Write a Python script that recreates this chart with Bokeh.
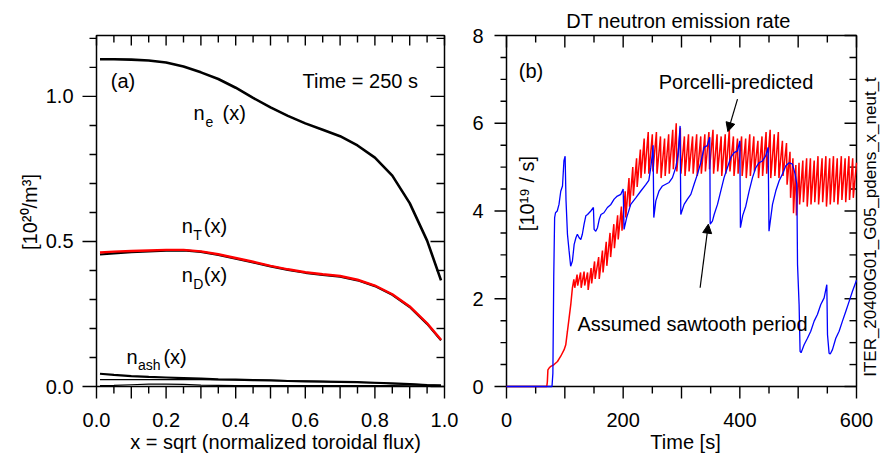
from math import pi
from bokeh.plotting import figure
from bokeh.layouts import row
from bokeh.core.properties import value
from bokeh.models import Range1d, Arrow, NormalHead
from bokeh.embed import file_html
from bokeh.resources import INLINE

FONT = "Liberation Sans"

# ---------------- Panel (a): density profiles at t = 250 s ----------------
rho = [0.01, 0.05, 0.10, 0.15, 0.20, 0.25, 0.30, 0.35, 0.40, 0.45, 0.50,
       0.55, 0.60, 0.65, 0.70, 0.75, 0.80, 0.85, 0.90, 0.95, 0.99]
n_e = [1.128, 1.128, 1.127, 1.124, 1.117, 1.103, 1.083, 1.060, 1.030, 0.995, 0.962,
       0.933, 0.907, 0.885, 0.863, 0.831, 0.789, 0.727, 0.632, 0.503, 0.366]
n_T = [0.462, 0.465, 0.467, 0.469, 0.471, 0.471, 0.466, 0.456, 0.443, 0.430, 0.416,
       0.404, 0.394, 0.387, 0.381, 0.368, 0.348, 0.318, 0.276, 0.218, 0.161]
n_D = [0.455, 0.459, 0.463, 0.466, 0.468, 0.469, 0.464, 0.454, 0.441, 0.428, 0.414,
       0.402, 0.392, 0.385, 0.379, 0.366, 0.346, 0.316, 0.274, 0.216, 0.159]
n_ash = [0.044, 0.040, 0.036, 0.033, 0.031, 0.029, 0.027, 0.025, 0.024, 0.022, 0.021,
         0.019, 0.018, 0.017, 0.016, 0.015, 0.013, 0.011, 0.008, 0.005, 0.003]
n_imp1 = [0.024, 0.024, 0.024, 0.024, 0.024, 0.024, 0.024, 0.023, 0.023, 0.022, 0.021,
          0.020, 0.019, 0.018, 0.016, 0.014, 0.012, 0.010, 0.008, 0.006, 0.005]
n_imp2 = [0.003, 0.004, 0.006, 0.008, 0.008, 0.007, 0.005, 0.004, 0.003, 0.003, 0.003,
          0.003, 0.003, 0.003, 0.003, 0.003, 0.003, 0.003, 0.002, 0.002, 0.002]

a_xlim = (0.0, 1.0)
a_ylim = (0.0, 1.21)
a_xticks = [0.0, 0.1, 0.2, 0.3, 0.4, 0.5, 0.6, 0.7, 0.8, 0.9, 1.0]
a_xminor = [0.05, 0.15, 0.25, 0.35, 0.45, 0.55, 0.65, 0.75, 0.85, 0.95]
a_xlabel_pos = [0.0, 0.2, 0.4, 0.6, 0.8, 1.0]
a_xlabels = ["0.0", "0.2", "0.4", "0.6", "0.8", "1.0"]
a_yticks = [0.0, 0.5, 1.0]
a_yminor = [0.1, 0.2, 0.3, 0.4, 0.6, 0.7, 0.8, 0.9, 1.1, 1.2]
a_ylabels = ["0.0", "0.5", "1.0"]

# ---------------- Panel (b): DT neutron emission rate ----------------
assumed_sawtooth = [
    (0, 0), (78, 0), (79.5, 0.3), (81, 2.5), (82.5, 3.85), (84, 3.96), (87, 4.0), (90, 4.15),
    (93, 4.45), (96, 4.57), (98.5, 5.15), (100.5, 5.25), (102, 4.25), (104.5, 3.47), (107.3, 3.09),
    (110, 2.74), (113, 2.86), (116, 3.24), (119, 3.39), (121.5, 3.47), (124.5, 3.39), (127.4, 3.35),
    (130, 3.47), (133, 3.70), (136, 3.89), (139, 3.92), (144.5, 4.0), (149, 4.08), (150.2, 3.58),
    (153, 3.54), (156, 3.62), (159, 3.81), (162, 3.92), (167, 3.96), (173, 4.08), (179, 4.15),
    (184.5, 4.27), (190, 4.34), (196, 4.38), (200, 4.50), (201.5, 3.58), (206, 3.85), (213, 4.15),
    (221.6, 4.30), (230, 4.45), (238.8, 4.6), (244, 4.7), (247.4, 5.0), (250, 5.3), (251.3, 5.5),
    (252.5, 3.85), (256, 4.23), (261.6, 4.46), (267.4, 4.57), (273, 4.61), (278.8, 4.65),
    (284.5, 4.76), (290.2, 4.99), (294.2, 5.30), (297.6, 5.94), (298.8, 3.92), (304.5, 4.15),
    (310.2, 4.27), (316, 4.38), (321.6, 4.61), (327.4, 4.84), (333, 5.10), (338.8, 5.45),
    (344, 5.49), (348.5, 5.68), (349.2, 3.70), (353, 3.77), (356, 3.92), (361.7, 4.15),
    (367.4, 4.46), (373, 4.76), (378.8, 4.99), (384.5, 5.22), (390.2, 5.33), (396, 5.37),
    (400, 5.6), (401, 3.62), (405, 3.9), (410.2, 4.11), (416, 4.46), (421.7, 4.76), (427.4, 4.99),
    (433, 5.10), (438.8, 5.14), (444.5, 5.26), (448.5, 5.45), (450, 3.54), (456, 4.15),
    (461.7, 4.46), (467.4, 4.69), (473, 4.84), (478.8, 5.03), (484.5, 5.10), (490.2, 5.07),
    (494.8, 4.84), (497.7, 4.61), (498.9, 2.78), (501.6, 1.87), (503.3, 0.80), (505, 0.77),
    (510.2, 0.95), (515.9, 1.10), (521.6, 1.26), (527.4, 1.49), (533, 1.64), (538.8, 1.87),
    (544.5, 2.02), (549.1, 2.32), (550.3, 1.18), (553, 0.76), (555, 0.74), (558.8, 0.84),
    (564.5, 1.10), (570.2, 1.26), (575.9, 1.49), (581.6, 1.71), (587.4, 1.94), (593.1, 2.17),
    (600, 2.42)]

porcelli_predicted = [
    (0, 0), (69, 0), (70, 0.1), (71, 0.38), (73, 0.42), (76, 0.46), (81.6, 0.50), (87.4, 0.57),
    (93, 0.69), (98.8, 0.84), (101.6, 0.95), (104.5, 1.26), (107.3, 1.56), (110.2, 1.87),
    (113, 2.25), (115.5, 2.44), (117, 2.25), (121, 2.55), (122, 2.3), (127, 2.6), (128, 2.25),
    (133, 2.62), (134, 2.3), (139, 2.6), (140, 2.2), (145, 2.7), (146, 2.35), (151, 2.85),
    (152, 2.45), (158, 2.95), (159, 2.45), (164.5, 3.1), (165.5, 2.6), (171, 3.3), (172, 2.75),
    (177.5, 3.5), (178.5, 2.95), (184, 3.7), (185, 3.15), (190.5, 3.9), (191.5, 3.35),
    (197, 4.1), (198, 3.55), (203.5, 4.45), (204.5, 3.85), (210, 4.75), (211, 4.1),
    (216.5, 5.0), (217.5, 4.35), (223, 5.2), (224, 4.55), (229.5, 5.4), (230.5, 4.75),
    (236, 5.65), (237, 4.85), (243, 5.8), (244, 4.85), (250, 5.75), (251, 4.9), (257, 5.8),
    (258, 4.85), (264, 5.7), (265, 4.75), (271, 5.65), (272, 4.8), (278, 5.75), (279, 4.85),
    (285, 5.85), (286, 4.95), (291, 6.0), (292, 4.9), (298, 5.9), (299, 4.85), (305, 5.7),
    (306, 4.8), (312, 5.75), (313, 4.9), (319, 5.7), (320, 4.85), (326, 5.75), (327, 4.8),
    (333, 5.7), (334, 4.85), (340, 5.75), (341, 4.9), (347, 5.8), (348, 4.95), (354, 5.85),
    (355, 4.85), (361, 5.75), (362, 4.9), (368, 5.7), (369, 4.8), (375, 5.75), (376, 4.85),
    (382, 5.85), (383, 4.9), (389, 5.7), (390, 4.8), (396, 5.65), (397, 4.85), (403, 5.7),
    (404, 4.8), (410, 5.65), (411, 4.75), (417, 5.75), (418, 4.8), (424, 5.7), (425, 4.9),
    (431, 5.6), (432, 4.75), (438, 5.7), (439, 4.8), (445, 5.8), (446, 4.85), (452, 5.85),
    (453, 4.75), (459, 5.75), (460, 4.8), (466, 5.8), (467, 4.75), (473, 5.6), (474, 4.8),
    (480, 5.55), (481, 4.6), (486, 5.35), (487, 4.3), (491, 5.2), (492, 3.95), (496, 5.05),
    (497, 3.9), (501.5, 5.1), (502.5, 4.15), (508, 5.15), (509, 4.2), (514.5, 5.2),
    (515.5, 4.1), (521, 5.2), (522, 4.15), (527.5, 5.15), (528.5, 4.2), (534, 5.25),
    (535, 4.15), (541, 5.2), (542, 4.2), (547.5, 5.25), (548.5, 4.1), (554, 5.2), (555, 4.15),
    (560.5, 5.25), (561.5, 4.2), (567, 5.2), (568, 4.15), (574, 5.25), (575, 4.25),
    (580.5, 5.2), (581.5, 4.2), (587, 5.25), (588, 4.25), (593.5, 5.2), (594.5, 4.3), (600, 5.1)]

b_xlim = (0, 600)
b_ylim = (0, 8)
b_xticks = [0, 100, 200, 300, 400, 500, 600]
b_xminor = [50, 150, 250, 350, 450, 550]
b_xlabel_pos = [0, 200, 400, 600]
b_xlabels = ["0", "200", "400", "600"]
b_yticks = [0, 2, 4, 6, 8]
b_yminor = [0.5, 1, 1.5, 2.5, 3, 3.5, 4.5, 5, 5.5, 6.5, 7, 7.5]
b_ylabels = ["0", "2", "4", "6", "8"]

t_blue = [p[0] for p in assumed_sawtooth]
v_blue = [p[1] for p in assumed_sawtooth]
t_red = [p[0] for p in porcelli_predicted]
v_red = [p[1] for p in porcelli_predicted]

H = 455
BOX_T, BOX_B = 35, 386


def make_fig(W, xlim, ylim, L, R):
    """Figure whose plotting box (xlim x ylim) sits at pixels L..R, BOX_T..BOX_B."""
    kx = (R - L) / (xlim[1] - xlim[0])
    ky = (BOX_B - BOX_T) / (ylim[1] - ylim[0])
    xr = Range1d(xlim[0] - L / kx, xlim[0] + (W - L) / kx)
    yr = Range1d(ylim[0] - (H - BOX_B) / ky, ylim[1] + BOX_T / ky)
    p = figure(width=W, height=H, x_range=xr, y_range=yr, output_backend="svg",
               toolbar_location=None, x_axis_location=None, y_axis_location=None,
               min_border=0, title=None)
    p.grid.visible = False
    p.outline_line_color = None
    p.quad(left=[xlim[0]], right=[xlim[1]], bottom=[ylim[0]], top=[ylim[1]],
           fill_color=None, line_color="black", line_width=1.5)
    return p, dict(kx=kx, ky=ky, xlim=xlim, ylim=ylim)


def vticks(p, M, xs, y_edge, len_px, down):
    """Vertical tick marks drawn as thin filled bars."""
    hw = 0.7 / M["kx"]
    d = len_px / M["ky"]
    y1 = y_edge - d if down else y_edge + d
    n = len(xs)
    p.quad(left=[x - hw for x in xs], right=[x + hw for x in xs],
           bottom=[min(y_edge, y1)] * n, top=[max(y_edge, y1)] * n,
           fill_color="black", line_color=None)


def hticks(p, M, ys, x_edge, len_px, left):
    """Horizontal tick marks drawn as thin filled bars."""
    hh = 0.7 / M["ky"]
    d = len_px / M["kx"]
    x1 = x_edge - d if left else x_edge + d
    n = len(ys)
    p.quad(left=[min(x_edge, x1)] * n, right=[max(x_edge, x1)] * n,
           bottom=[y - hh for y in ys], top=[y + hh for y in ys],
           fill_color="black", line_color=None)


def txt(p, M, x, y, text, size=20, dx=0.0, dy=0.0, angle=0.0, align="left"):
    """Text whose baseline passes through (x, y) + (dx, dy) pixels (dy positive = down)."""
    shift = 0.35 * size
    if angle == 0.0:
        xx = x + dx / M["kx"]
        yy = y - (dy - shift) / M["ky"]
    else:
        xx = x + (dx - shift) / M["kx"]
        yy = y - dy / M["ky"]
    p.text(x=[xx], y=[yy], text=[text], angle=angle, text_font=value(FONT),
           text_font_size=value(f"{size}px"), text_color="black",
           text_baseline="middle", text_align=align)


# ---------- left figure ----------
p1, M1 = make_fig(460, a_xlim, a_ylim, 96, 444)
vticks(p1, M1, a_xticks, a_ylim[0], 12, True)
vticks(p1, M1, a_xminor, a_ylim[0], 7, True)
vticks(p1, M1, a_xticks, a_ylim[1], 10, True)
vticks(p1, M1, a_xminor, a_ylim[1], 7, True)
hticks(p1, M1, a_yticks, a_xlim[0], 14, True)
hticks(p1, M1, a_yminor, a_xlim[0], 7, True)
hticks(p1, M1, a_yticks, a_xlim[1], 14, True)
hticks(p1, M1, a_yminor, a_xlim[1], 8, True)
for v, s in zip(a_xlabel_pos, a_xlabels):
    txt(p1, M1, v, a_ylim[0], s, 20, 0, 40, align="center")
for v, s in zip(a_yticks, a_ylabels):
    txt(p1, M1, a_xlim[0], v, s, 20, -23, 7, align="right")
txt(p1, M1, 0.5, a_ylim[0], "x = sqrt (normalized toroidal flux)", 20, 5, 62, align="center")
txt(p1, M1, a_xlim[0], a_ylim[0], "[10²⁰/m³]", 20, -60, -174.5, pi / 2, "center")

p1.line(rho, n_imp2, line_color="black", line_width=1.2)
p1.line(rho, n_imp1, line_color="black", line_width=1.2)
p1.line(rho, n_ash, line_color="black", line_width=2.2)
p1.line(rho, n_D, line_color="black", line_width=2.2)
p1.line(rho, n_T, line_color="#ff0000", line_width=2.4)
p1.line(rho, n_e, line_color="black", line_width=2.6)

txt(p1, M1, 0.041, 1.028, "(a)")
txt(p1, M1, 0.592, 1.028, "Time = 250 s")
txt(p1, M1, 0.279, 0.917, "n")
txt(p1, M1, 0.279, 0.917, "e", 14, 12, 6)
txt(p1, M1, 0.279, 0.917, "(x)", 20, 29, 0)
txt(p1, M1, 0.245, 0.528, "n")
txt(p1, M1, 0.245, 0.528, "T", 14, 11.5, 7)
txt(p1, M1, 0.245, 0.528, "(x)", 20, 22, 0)
txt(p1, M1, 0.245, 0.359, "n")
txt(p1, M1, 0.245, 0.359, "D", 14, 11.5, 7)
txt(p1, M1, 0.245, 0.359, "(x)", 20, 22, 0)
txt(p1, M1, 0.086, 0.079, "n")
txt(p1, M1, 0.086, 0.079, "ash", 14, 11.5, 6)
txt(p1, M1, 0.086, 0.079, "(x)", 20, 37, 0)

# ---------- right figure ----------
p2, M2 = make_fig(420, b_xlim, b_ylim, 46, 396)
vticks(p2, M2, b_xticks, b_ylim[0], 12, True)
vticks(p2, M2, b_xminor, b_ylim[0], 7, True)
vticks(p2, M2, b_xticks, b_ylim[1], 12, True)
vticks(p2, M2, b_xminor, b_ylim[1], 7, True)
hticks(p2, M2, b_yticks, b_xlim[0], 12, True)
hticks(p2, M2, b_yminor, b_xlim[0], 6, True)
hticks(p2, M2, b_yticks, b_xlim[1], 12, True)
hticks(p2, M2, b_yminor, b_xlim[1], 7, True)
for v, s in zip(b_xlabel_pos, b_xlabels):
    txt(p2, M2, v, b_ylim[0], s, 20, 0, 40, align="center")
for v, s in zip(b_yticks, b_ylabels):
    txt(p2, M2, b_xlim[0], v, s, 20, -23, 7, align="right")
txt(p2, M2, 300, b_ylim[0], "Time [s]", 20, 4, 62, align="center")
txt(p2, M2, 300, b_ylim[1], "DT neutron emission rate", 20, -3, -8, align="center")

p2.line(t_red, v_red, line_color="#ff0000", line_width=1.5)
p2.line(t_blue, v_blue, line_color="#0000ff", line_width=1.3)

txt(p2, M2, 21.1, 7.02, "(b)")
txt(p2, M2, 261, 6.79, "Porcelli-predicted")
txt(p2, M2, 121.7, 1.257, "Assumed sawtooth period")
txt(p2, M2, b_xlim[0], b_ylim[0], "[10¹⁹ / s]", 20, 27, -193, pi / 2, "center")
txt(p2, M2, b_xlim[0], b_ylim[0], "ITER_20400G01_G05_pdens_x_neut_t", 17, 370, -159.5,
    pi / 2, "center")

p2.add_layout(Arrow(end=NormalHead(size=9, fill_color="black", line_color="black"),
                    x_start=396, y_start=6.55, x_end=379.5, y_end=5.81,
                    line_color="black", line_width=1.2))
p2.add_layout(Arrow(end=NormalHead(size=9, fill_color="black", line_color="black"),
                    x_start=331.9, y_start=2.25, x_end=346, y_end=3.70,
                    line_color="black", line_width=1.2))

layout = row(p1, p2)
open("out.html", "w").write(file_html(layout, INLINE))
